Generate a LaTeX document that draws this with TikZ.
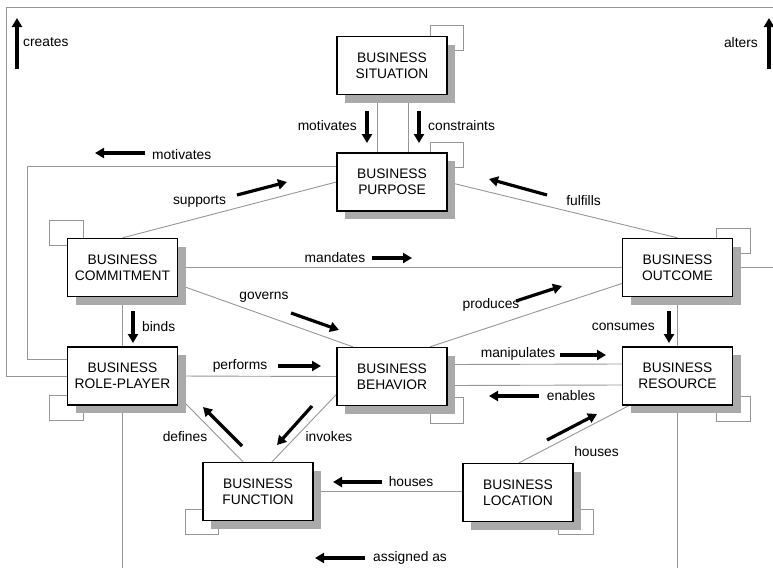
\documentclass[tikz,border=0pt]{standalone}
\usepackage{fontspec}
\setmainfont{Liberation Sans}
\usetikzlibrary{arrows.meta,shadows,backgrounds}
\definecolor{linkgray}{RGB}{150,150,150}
\definecolor{shadegray}{RGB}{170,170,170}
\begin{document}
\begin{tikzpicture}[x=1pt,y=-1pt,
  every node/.style={font=\fontsize{13.8}{16}\selectfont},
  entity/.style={draw=black, line width=1.3pt, fill=white,
    minimum width=110pt, minimum height=58pt, align=center, inner sep=2pt,
    drop shadow={shadow xshift=8pt, shadow yshift=-8pt, fill=shadegray, opacity=1}},
  link/.style={draw=linkgray, line width=0.9pt},
  selfloop/.style={draw=linkgray, line width=0.9pt},
  flow/.style={line width=3.2pt, -{Triangle[length=9pt,width=10pt]}},
  lbl/.style={inner sep=0pt}]

\useasboundingbox (0,0) rectangle (773,568);

% entities
\node[entity] (sit) at (392,65.5)  {BUSINESS\\SITUATION};
\node[entity] (pur) at (392,182)   {BUSINESS\\PURPOSE};
\node[entity] (com) at (122.5,267.5) {BUSINESS\\COMMITMENT};
\node[entity] (out) at (677.5,267.5) {BUSINESS\\OUTCOME};
\node[entity] (role) at (122.5,376) {BUSINESS\\ROLE-PLAYER};
\node[entity] (beh) at (392,376.5) {BUSINESS\\BEHAVIOR};
\node[entity] (res) at (677.5,376) {BUSINESS\\RESOURCE};
\node[entity] (fun) at (258,491.5) {BUSINESS\\FUNCTION};
\node[entity] (loc) at (518,492.5) {BUSINESS\\LOCATION};

% free ends at the picture border
\coordinate (leftTop) at (6,7);
\coordinate (rightTop) at (773,7);
\coordinate (altersEnd) at (773,267.5);
\coordinate (asgL) at (122.5,568);
\coordinate (asgR) at (677.5,568);
\coordinate (motCorner) at (27,166);

\begin{scope}[on background layer]
  % self relationships
  \draw[selfloop] ([xshift=-17pt,yshift=10pt]sit.north east) rectangle ([xshift=16pt,yshift=-15pt]sit.north east);
  \draw[selfloop] ([xshift=-17pt,yshift=10pt]pur.north east) rectangle ([xshift=16pt,yshift=-15pt]pur.north east);
  \draw[selfloop] ([xshift=-17pt,yshift=17pt]com.north west) rectangle ([xshift=17pt,yshift=-8pt]com.north west);
  \draw[selfloop] ([xshift=-17pt,yshift=9pt]out.north east) rectangle ([xshift=17pt,yshift=-16pt]out.north east);
  \draw[selfloop] ([xshift=-17pt,yshift=10pt]role.south west) rectangle ([xshift=17pt,yshift=-15pt]role.south west);
  \draw[selfloop] ([xshift=-17pt,yshift=9pt]beh.south east) rectangle ([xshift=16pt,yshift=-17pt]beh.south east);
  \draw[selfloop] ([xshift=-17pt,yshift=9pt]res.south east) rectangle ([xshift=17pt,yshift=-16pt]res.south east);
  \draw[selfloop] ([xshift=-17pt,yshift=12pt]fun.south west) rectangle ([xshift=16pt,yshift=-13pt]fun.south west);
  \draw[selfloop] ([xshift=-15pt,yshift=13pt]loc.south east) rectangle ([xshift=20pt,yshift=-12pt]loc.south east);

  % relationships
  \draw[link] ([xshift=-15pt]sit.south) -- ([xshift=-15pt]pur.north);
  \draw[link] ([xshift=16pt]sit.south) -- ([xshift=16pt]pur.north);
  \draw[link] ([yshift=16pt]pur.west) -- (motCorner) |- ([yshift=17pt]role.west);
  \draw[link] (role.west) -| (leftTop) -- (rightTop);
  \draw[link] (out.east) -- (altersEnd);
  \draw[link] (com.north) -- (pur.west);
  \draw[link] (pur.east) -- (out.north);
  \draw[link] (com.east) -- (out.west);
  \draw[link] ([yshift=-17pt]com.east) -- ([xshift=-39pt]beh.north);
  \draw[link] ([xshift=38pt]beh.north) -- ([yshift=-16pt]out.west);
  \draw[link] (com.south) -- (role.north);
  \draw[link] (out.south) -- (res.north);
  \draw[link] (role.east) -- (beh.west);
  \draw[link] ([yshift=12pt]beh.east) -- ([yshift=12pt]res.west);
  \draw[link] ([yshift=-9pt]beh.east) -- ([yshift=-9pt]res.west);
  \draw[link] ([xshift=-15pt]fun.north) -- ([yshift=-20pt]role.east);
  \draw[link] ([xshift=14pt]fun.north) -- ([yshift=-18pt]beh.west);
  \draw[link] (fun.east) -- (fun.east -| loc.west);
  \draw[link] ([xshift=1pt]loc.north) -- ([xshift=7pt]res.south west);
  \draw[link] (role.south) -- (asgL);
  \draw[link] (res.south) -- (asgR);
\end{scope}

% reading-direction arrows
\draw[flow] (17,69) -- (17,18);
\draw[flow] (769,69) -- (769,18);
\draw[flow] (367,111) -- (367,143);
\draw[flow] (419,111) -- (419,143);
\draw[flow] (145,153) -- (95,153);
\draw[flow] (237,195) -- (287,182);
\draw[flow] (547,195) -- (489,179);
\draw[flow] (372,258) -- (412,258);
\draw[flow] (291,313) -- (339,330);
\draw[flow] (516,301) -- (562,286);
\draw[flow] (133,311) -- (133,343);
\draw[flow] (669,311) -- (669,343);
\draw[flow] (278,366) -- (321,366);
\draw[flow] (560,355) -- (606,355);
\draw[flow] (539,396) -- (489,396);
\draw[flow] (242,446) -- (203,407);
\draw[flow] (312,406) -- (277,445);
\draw[flow] (382,482) -- (333,482);
\draw[flow] (547,440) -- (597,414);
\draw[flow] (365,558) -- (315,558);

% relationship names
\node[lbl, anchor=west] (tCreates) at (23,42) {creates};
\node[lbl, anchor=east] (tAlters) at (758,43) {alters};
\node[lbl, anchor=east] (tMotivatesA) at (357,126) {motivates};
\node[lbl, anchor=west] (tConstraints) at (428,126) {constraints};
\node[lbl, anchor=west] (tMotivatesB) at (152,155) {motivates};
\node[lbl] (tSupports) at (199.5,201) {supports};
\node[lbl] (tFulfills) at (583.5,201) {fulfills};
\node[lbl] (tMandates) at (335,258) {mandates};
\node[lbl] (tGoverns) at (264,297) {governs};
\node[lbl] (tProduces) at (491,305) {produces};
\node[lbl, anchor=west] (tBinds) at (142,327) {binds};
\node[lbl, anchor=east] (tConsumes) at (655,327) {consumes};
\node[lbl] (tPerforms) at (240,366) {performs};
\node[lbl] (tManipulates) at (518,354) {manipulates};
\node[lbl] (tEnables) at (571,396) {enables};
\node[lbl] (tDefines) at (185,437) {defines};
\node[lbl] (tInvokes) at (329,437) {invokes};
\node[lbl] (tHousesA) at (411,482) {houses};
\node[lbl] (tHousesB) at (596.5,452) {houses};
\node[lbl, anchor=west] (tAssigned) at (373,558) {assigned as};
\end{tikzpicture}
\end{document}
